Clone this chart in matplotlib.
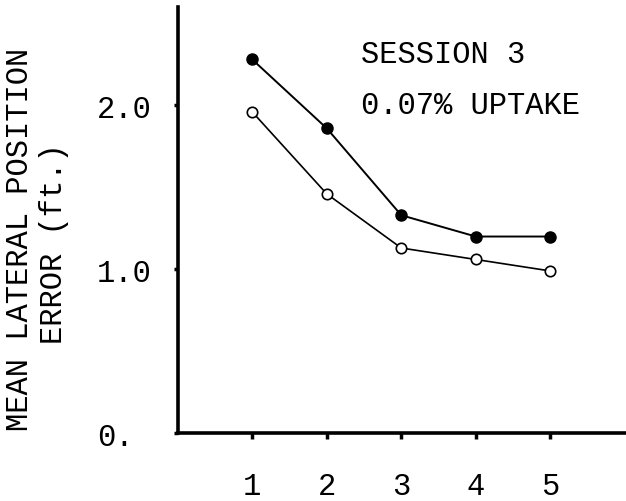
import matplotlib
matplotlib.use("Agg")
import matplotlib.pyplot as plt

# trial number vs. mean lateral position error
trials = [1, 2, 3, 4, 5]
err_filled = [2.28, 1.86, 1.33, 1.20, 1.20]
err_open = [1.96, 1.46, 1.13, 1.06, 0.99]
ytick_vals = [0.0, 1.0, 2.0]
ytick_text = ["0.", "1.0", "2.0"]

plt.rcParams["font.family"] = ["Liberation Mono", "DejaVu Sans Mono"]

fig = plt.figure(figsize=(6.26, 5.02), dpi=100)
ax = fig.add_axes([0.284, 0.135, 0.714, 0.849])

ax.plot(trials, err_filled, color="black", lw=1.4, marker="o", ms=8,
        mfc="black", mec="black")
ax.plot(trials, err_open, color="black", lw=1.2, marker="o", ms=7.5,
        mfc="white", mec="black", mew=1.2)

ax.set_xlim(0, 6)
ax.set_ylim(0, 2.6)

for side in ("top", "right"):
    ax.spines[side].set_visible(False)
for side in ("left", "bottom"):
    ax.spines[side].set_linewidth(2.6)

ax.set_xticks(trials)
ax.set_xticklabels([str(t) for t in trials])
ax.set_yticks(ytick_vals)
ax.set_yticklabels(ytick_text)
ax.tick_params(axis="x", length=4, width=2.5, pad=23, labelsize=22)
ax.tick_params(axis="y", length=3, width=2.5, pad=55, labelsize=22)
for lab in ax.get_yticklabels():
    lab.set_horizontalalignment("left")

ax.text(0.41, 0.89, "SESSION 3", transform=ax.transAxes,
        fontsize=22, va="center", ha="left")
ax.text(0.41, 0.77, "0.07% UPTAKE", transform=ax.transAxes,
        fontsize=22, va="center", ha="left")

fig.text(0.032, 0.524, "MEAN LATERAL POSITION", rotation=90,
         fontsize=22, ha="center", va="center")
fig.text(0.086, 0.514, "ERROR (ft.)", rotation=90,
         fontsize=22, ha="center", va="center")

fig.savefig("out.png", dpi=100)
